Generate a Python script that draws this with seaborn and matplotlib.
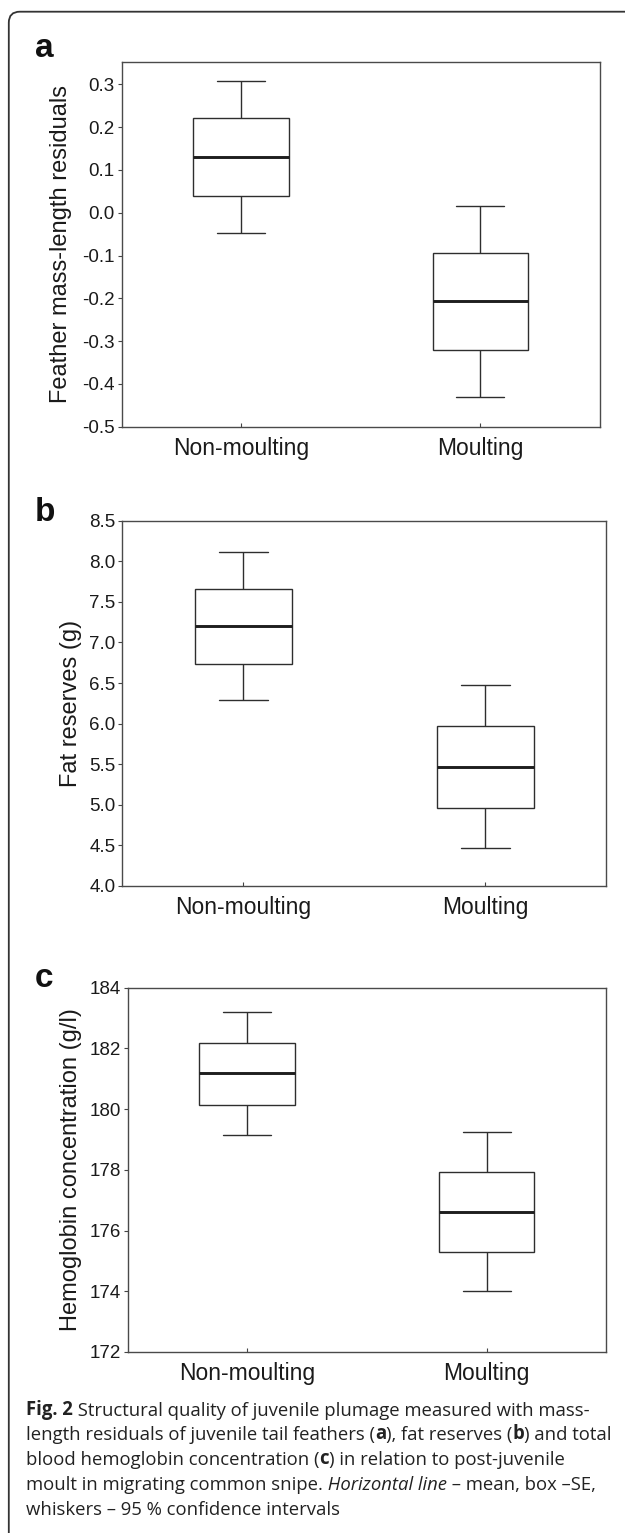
import numpy as np
import pandas as pd
import matplotlib
matplotlib.use('Agg')
import matplotlib.pyplot as plt
from matplotlib.patches import FancyBboxPatch
from matplotlib.text import Annotation
from matplotlib.transforms import IdentityTransform
from matplotlib.ticker import FixedLocator, FormatStrFormatter
import seaborn as sns

groups = ['Non-moulting', 'Moulting']

# each list: lower 95% CI, mean - SE, mean, mean + SE, upper 95% CI
feather_nonmoult = [-0.048, 0.040, 0.131, 0.221, 0.309]
feather_moult = [-0.430, -0.320, -0.207, -0.094, 0.016]
fat_nonmoult = [6.29, 6.74, 7.20, 7.66, 8.11]
fat_moult = [4.47, 4.96, 5.47, 5.975, 6.475]
hb_nonmoult = [179.15, 180.14, 181.17, 182.17, 183.18]
hb_moult = [174.0, 175.29, 176.61, 177.94, 179.25]

feather_ticks = [-0.5, -0.4, -0.3, -0.2, -0.1, 0.0, 0.1, 0.2, 0.3]
fat_ticks = [4.0, 4.5, 5.0, 5.5, 6.0, 6.5, 7.0, 7.5, 8.0, 8.5]
hb_ticks = [172, 174, 176, 178, 180, 182, 184]

ylabels = ['Feather mass-length residuals', 'Fat reserves (g)',
           'Hemoglobin concentration (g/l)']
letters = ['a', 'b', 'c']

caption = [
    [("Fig. 2", "bold", "normal"),
     (" Structural quality of juvenile plumage measured with mass-", "normal", "normal")],
    [("length residuals of juvenile tail feathers (", "normal", "normal"), ("a", "bold", "normal"),
     ("), fat reserves (", "normal", "normal"), ("b", "bold", "normal"),
     (") and total", "normal", "normal")],
    [("blood hemoglobin concentration (", "normal", "normal"), ("c", "bold", "normal"),
     (") in relation to post-juvenile", "normal", "normal")],
    [("moult in migrating common snipe.", "normal", "normal"),
     (" Horizontal line", "normal", "italic"),
     (" \u2013 mean, box \u2013SE,", "normal", "normal")],
    [("whiskers \u2013 95 % confidence intervals", "normal", "normal")],
]

sns.set_style('ticks')
plt.rcParams['font.family'] = ['Liberation Sans', 'DejaVu Sans']
plt.rcParams['axes.unicode_minus'] = False

W, H = 625, 1533
fig = plt.figure(figsize=(W / 100, H / 100), dpi=100)

# panel layout in pixels: left, top, right, bottom
boxes_px = [(121.6, 61.7, 600.0, 426.7), (122.4, 520.7, 606.3, 886.0), (127.6, 987.5, 606.3, 1352.0)]
label_x = [-0.104, -0.084, -0.095]
letter_y = [57, 521, 987]

panels = [
    (feather_nonmoult, feather_moult, feather_ticks, (-0.5, 0.353), '%.1f'),
    (fat_nonmoult, fat_moult, fat_ticks, (4.0, 8.5), '%.1f'),
    (hb_nonmoult, hb_moult, hb_ticks, (172, 184), '%d'),
]

for i, (nm, m, ticks, ylim, fmt) in enumerate(panels):
    l, t, r, b = boxes_px[i]
    ax = fig.add_axes([l / W, 1 - b / H, (r - l) / W, (b - t) / H])
    df = pd.DataFrame({'group': np.repeat(groups, 5), 'value': nm + m})
    sns.boxplot(data=df, x='group', y='value', order=groups, width=0.4, whis=(0, 100),
                color='white', linecolor='#2e2e2e', linewidth=1.0, saturation=1,
                medianprops=dict(color='#1e1e1e', linewidth=2.1), ax=ax)
    ax.set_xlim(-0.5, 1.5)
    ax.set_ylim(*ylim)
    ax.yaxis.set_major_locator(FixedLocator(ticks))
    ax.yaxis.set_major_formatter(FormatStrFormatter(fmt))
    ax.set_xlabel('')
    ax.set_ylabel(ylabels[i], fontsize=17, color='#1a1a1a')
    ax.yaxis.set_label_coords(label_x[i], 0.5)
    ax.tick_params(axis='y', direction='out', labelsize=13.5, length=3, width=0.8, pad=2,
                   color='#444444', labelcolor='#1a1a1a')
    ax.tick_params(axis='x', direction='in', labelsize=16.5, length=3, width=0.8, pad=7.5,
                   color='#444444', labelcolor='#1a1a1a')
    for s in ax.spines.values():
        s.set_visible(True)
        s.set_color('#4a4a4a')
        s.set_linewidth(1.0)
    fig.text(35 / W, 1 - letter_y[i] / H, letters[i], fontsize=24, fontweight='bold',
             ha='left', va='baseline', color='#111111')

# caption, built segment by segment so bold/italic parts can sit inline
cap_base = [1415, 1440, 1465, 1490, 1515]
cap_size = 11.5
cap_font = ['Open Sans', 'DejaVu Sans']
cap_texts = []
line_parts = []
for segs, yb in zip(caption, cap_base):
    prev = None
    parts = []
    for s, w, st in segs:
        kw = dict(fontsize=cap_size, fontweight=w, fontstyle=st, family=cap_font, color='#222222')
        if prev is None:
            txt = fig.text(26 / W, 1 - yb / H, s, ha='left', va='baseline', **kw)
        else:
            txt = Annotation(s, xy=(1, 0), xycoords=prev, ha='left', va='bottom', **kw)
            fig.add_artist(txt)
        prev = txt
        parts.append(txt)
        cap_texts.append(txt)
    line_parts.append(parts)

# fit the second caption line to the width seen in the figure
fig.canvas.draw()
rend = fig.canvas.get_renderer()
x0 = line_parts[1][0].get_window_extent(rend).x0
x1 = line_parts[1][-1].get_window_extent(rend).x1
scale = (614 - 26) / (x1 - x0)
for txt in cap_texts:
    txt.set_fontsize(cap_size * scale)

frame = FancyBboxPatch((8.8, -40), 700, H - 11.7 + 40,
                       boxstyle='round,pad=0,rounding_size=11',
                       transform=IdentityTransform(), fill=False,
                       ec='#333333', lw=1.3)
fig.add_artist(frame)

fig.savefig('out.png', dpi=100, facecolor='white')
